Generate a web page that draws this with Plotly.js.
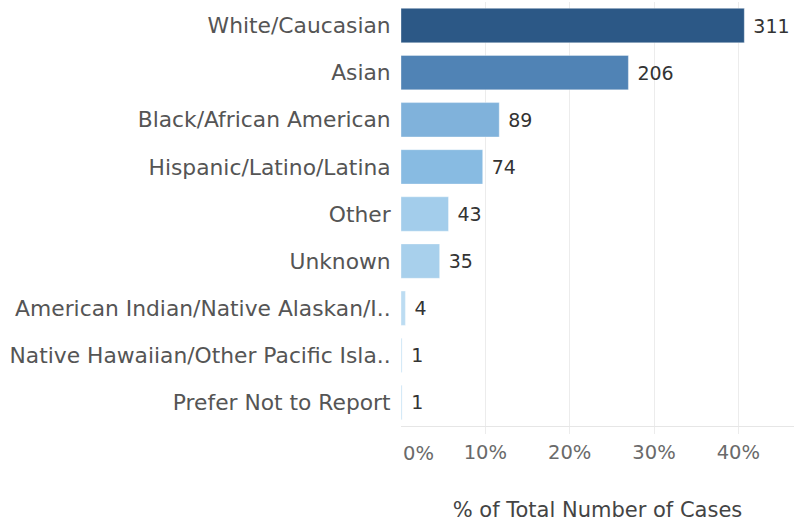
<!DOCTYPE html>
<html>
<head>
<meta charset="utf-8">
<script src="https://cdn.plot.ly/plotly-3.0.1.min.js"></script>
<style>
html,body{margin:0;padding:0;background:#fff;}
#chart{width:794px;height:522px;}
</style>
</head>
<body>
<div id="chart"></div>
<script>
const categories = [
  "White/Caucasian",
  "Asian",
  "Black/African American",
  "Hispanic/Latino/Latina",
  "Other",
  "Unknown",
  "American Indian/Native Alaskan/I..",
  "Native Hawaiian/Other Pacific Isla..",
  "Prefer Not to Report"
];
const counts = [311, 206, 89, 74, 43, 35, 4, 1, 1];
const barColors = ["#2c5886", "#5083b5", "#80b2db", "#88bbe2", "#a3cdeb", "#a8d0ec", "#bcdcf2", "#c6e2f5", "#c6e2f5"];
const tickValues = [0.1, 0.2, 0.3, 0.4];
const tickLabels = ["10%", "20%", "30%", "40%"];
const xTitle = "% of Total Number of Cases";

const total = counts.reduce((a, b) => a + b, 0);
const shares = counts.map(c => c / total);

const font = "'DejaVu Sans', Verdana, sans-serif";

const trace = {
  type: "bar",
  orientation: "h",
  x: shares,
  y: categories,
  text: counts.map(String),
  texttemplate: "\u00a0%{text}",
  textposition: "outside",
  constraintext: "none",
  cliponaxis: false,
  textfont: {family: font, size: 19, color: "#333333"},
  marker: {color: barColors, line: {color: "rgba(255,255,255,0.35)", width: 1}},
  hoverinfo: "none"
};

const layout = {
  width: 794,
  height: 522,
  margin: {l: 401, r: 0, t: 2, b: 96},
  paper_bgcolor: "#ffffff",
  plot_bgcolor: "#ffffff",
  showlegend: false,
  bargap: 0.27,
  font: {family: font},
  xaxis: {
    range: [0, 0.466],
    tickvals: tickValues,
    ticktext: tickLabels,
    tickfont: {family: font, size: 19.5, color: "#6a6a6a"},
    showgrid: true,
    gridcolor: "#ececec",
    gridwidth: 1,
    zeroline: false,
    showline: true,
    linecolor: "#e6e6e6",
    ticks: "outside",
    ticklen: 7,
    tickcolor: "#ececec",
    ticklabelstandoff: 2,
    title: {text: xTitle, font: {family: font, size: 21, color: "#444444"}, standoff: 38},
    fixedrange: true
  },
  yaxis: {
    type: "category",
    autorange: "reversed",
    tickfont: {family: font, size: 21.8, color: "#555555"},
    ticks: "outside",
    ticklen: 5,
    tickcolor: "rgba(0,0,0,0)",
    showgrid: false,
    zeroline: false,
    showline: false,
    automargin: false,
    fixedrange: true
  },
  annotations: [{
    x: 0, xref: "x", xanchor: "left",
    y: 0, yref: "paper", yanchor: "top", yshift: -14,
    text: "0%", showarrow: false,
    font: {family: font, size: 19.5, color: "#6a6a6a"}
  }]
};

Plotly.newPlot("chart", [trace], layout, {displayModeBar: false, staticPlot: true});
</script>
</body>
</html>
